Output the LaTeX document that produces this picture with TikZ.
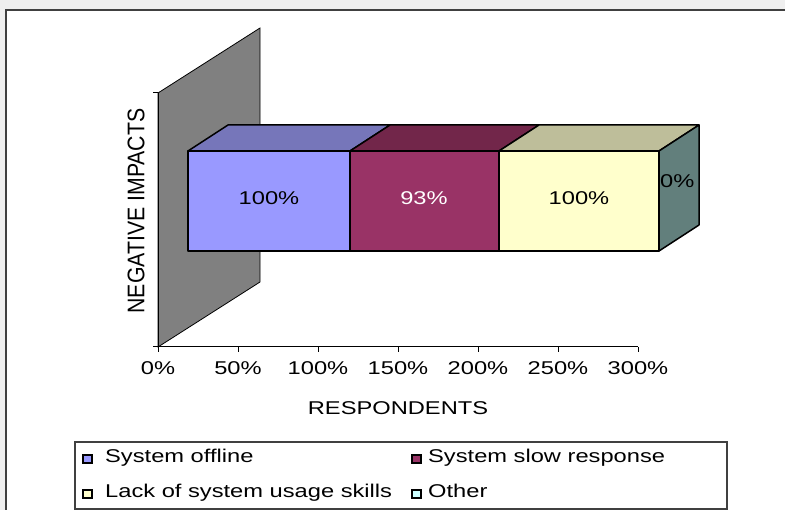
\documentclass[tikz,border=0pt]{standalone}
\usepackage{fontspec}
\usepackage{graphicx}
\setmainfont{Liberation Sans}[FakeStretch=1.28]
\newfontfamily\plainfont{Liberation Sans}

\definecolor{winbg}{HTML}{EFEFEF}
\definecolor{frame}{HTML}{404040}
\definecolor{wall}{HTML}{808080}
\definecolor{offline}{HTML}{9999FF}
\definecolor{offlinetop}{HTML}{7676BA}
\definecolor{slow}{HTML}{993366}
\definecolor{slowtop}{HTML}{72264A}
\definecolor{skills}{HTML}{FFFFCC}
\definecolor{skillstop}{HTML}{BEBE9A}
\definecolor{other}{HTML}{CCFFFF}
\definecolor{otherside}{HTML}{627F7C}

\tikzset{
  lbl/.style={font=\fontsize{18.5}{22}\selectfont, inner sep=0pt},
  face/.style={draw=black, line width=1.5pt, line join=round},
  legmark/.style={draw=black, line width=1.3pt}
}

\begin{document}
\begin{tikzpicture}[x=1pt,y=-1pt]
      \useasboundingbox (0,0) rectangle (785,510);

      % Fundo e moldura
      \fill[winbg] (0,0) rectangle (785,510);
      \filldraw[fill=white, draw=frame, line width=1.3pt] (6,10) rectangle (800,530);

      % Parede
      \filldraw[fill=wall, draw=black, line width=0.8pt] (158,93) -- (260,28) -- (260,282) -- (158,347) -- cycle;

      % Eixo y
      \draw[black, line width=1pt] (158,93) -- (158,347);
      \draw[black, line width=1pt] (153,93) -- (158,93);
      \draw[black, line width=1pt] (153,347) -- (158,347);

      % Eixo x
      \draw[black, line width=1pt] (153,347) -- (638,347);
      \draw[black, line width=1pt] (158,347) -- (158,352);
      \draw[black, line width=1pt] (238,347) -- (238,352);
      \draw[black, line width=1pt] (318,347) -- (318,352);
      \draw[black, line width=1pt] (398,347) -- (398,352);
      \draw[black, line width=1pt] (478,347) -- (478,352);
      \draw[black, line width=1pt] (558,347) -- (558,352);
      \draw[black, line width=1pt] (638,347) -- (638,352);

      \node[lbl] (t0)   at (158,368) {0\%};
      \node[lbl] (t50)  at (238,368) {50\%};
      \node[lbl] (t100) at (318,368) {100\%};
      \node[lbl] (t150) at (398,368) {150\%};
      \node[lbl] (t200) at (478,368) {200\%};
      \node[lbl] (t250) at (558,368) {250\%};
      \node[lbl] (t300) at (638,368) {300\%};

      % Barras (faces de cima)
      \filldraw[face, fill=offlinetop] (188,151) -- (228,125) -- (390,125) -- (350,151) -- cycle;
      \filldraw[face, fill=slowtop]    (350,151) -- (390,125) -- (539,125) -- (499,151) -- cycle;
      \filldraw[face, fill=skillstop]  (499,151) -- (539,125) -- (699,125) -- (659,151) -- cycle;
      \filldraw[face, fill=otherside]  (659,151) -- (699,125) -- (699,225) -- (659,251) -- cycle;

      % Barras (faces da frente)
      \filldraw[face, fill=offline] (188,151) rectangle (350,251);
      \filldraw[face, fill=slow]    (350,151) rectangle (499,251);
      \filldraw[face, fill=skills]  (499,151) rectangle (659,251);

      \node[lbl] (voffline) at (269,198) {100\%};
      \node[lbl, white] (vslow) at (424,198) {93\%};
      \node[lbl] (vskills) at (579,198) {100\%};
      \node[lbl, anchor=west] (vother) at (660,181) {0\%};

      % Titulos dos eixos
      \node[lbl] (xtitle) at (398,408) {RESPONDENTS};
      \node[lbl, rotate=90] (ytitle) at (136,211) {\scalebox{1.15}[1.3]{\plainfont NEGATIVE IMPACTS}};

      % Legenda
      \draw[frame, line width=1.3pt] (75,442) rectangle (727,509);

      \filldraw[legmark, fill=offline] (83,455) rectangle (92,463);
      \filldraw[legmark, fill=slow]    (412,455) rectangle (421,463);
      \filldraw[legmark, fill=skills]  (83,490) rectangle (92,498);
      \filldraw[legmark, fill=other]   (412,490) rectangle (421,498);

      \node[lbl, anchor=base west] (loffline) at (105,463) {System offline};
      \node[lbl, anchor=base west] (lslow)    at (428,463) {System slow response};
      \node[lbl, anchor=base west] (lskills)  at (105,498) {Lack of system usage skills};
      \node[lbl, anchor=base west] (lother)   at (428,498) {Other};

    \end{tikzpicture}
\end{document}
